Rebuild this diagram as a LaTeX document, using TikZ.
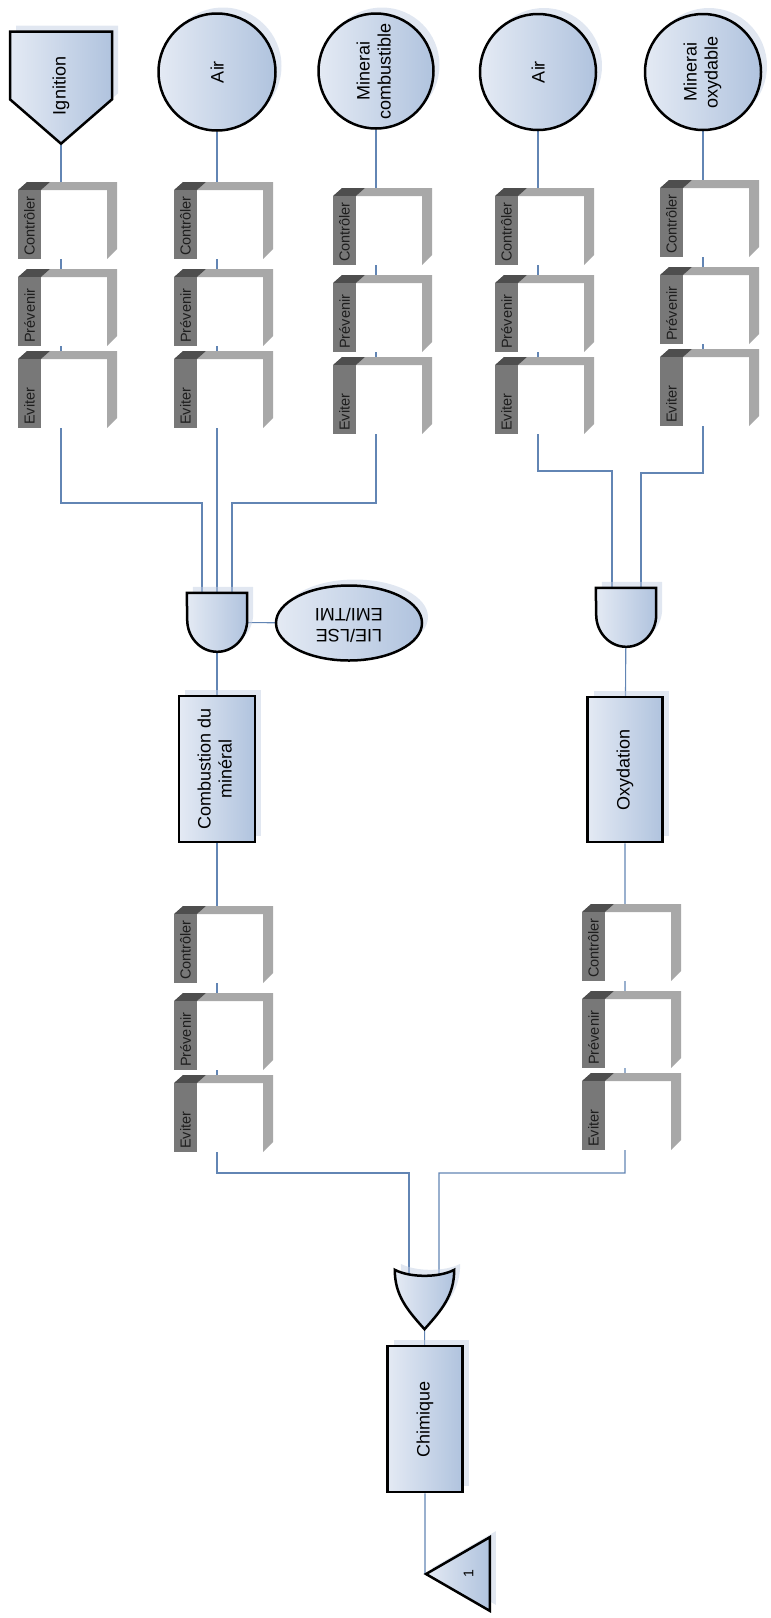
\documentclass[tikz,border=0pt]{standalone}
\usepackage{fontspec}
\setmainfont{Liberation Sans}
\usetikzlibrary{shapes.geometric,shapes.symbols,shadows,backgrounds}
\definecolor{evlight}{RGB}{228,234,244}
\definecolor{evdark}{RGB}{176,195,222}
\definecolor{evshadow}{RGB}{196,208,228}
\definecolor{wireblue}{RGB}{98,133,180}
\definecolor{bardark}{RGB}{120,120,120}
\definecolor{barcorner}{RGB}{78,78,78}
\definecolor{barlight}{RGB}{168,168,168}
\definecolor{bartext}{RGB}{30,30,30}

\begin{document}
\begin{tikzpicture}[x=1pt,y=-1pt]
        \tikzstyle{evshape} = [draw=black,line width=2.5pt,left color=evlight,right color=evdark,drop shadow={shadow xshift=6pt,shadow yshift=6pt,fill=evshadow,opacity=.5}]
        \tikzstyle{ev} = [evshape,font=\fontsize{18}{21}\selectfont,inner sep=0pt]
        \tikzstyle{gate} = [minimum width=60pt,minimum height=59pt,inner sep=0pt]
        \tikzstyle{wire} = [draw=wireblue,line width=1.1pt]
        \tikzset{barrier/.style={minimum width=99pt,minimum height=77pt,inner sep=0pt,fill=white,
            path picture={
                \coordinate (p) at (path picture bounding box.north west);
                \fill[barlight] ([shift={(23,8)}]p) -- ([shift={(32,0)}]p) -- ([shift={(99,0)}]p) -- ([shift={(99,67)}]p) -- ([shift={(89,77)}]p) -- ([shift={(89,8)}]p) -- cycle;
                \fill[barcorner] ([shift={(0,8)}]p) -- ([shift={(9,0)}]p) -- ([shift={(32,0)}]p) -- ([shift={(23,8)}]p) -- cycle;
                \fill[bardark] ([shift={(0,8)}]p) rectangle ([shift={(23,77)}]p);
                \node[rotate=90,anchor=west,inner sep=0pt,minimum width=0pt,minimum height=0pt,text=bartext,font=\fontsize{14.5}{16}\selectfont] at ([shift={(11.5,74)}]p) {#1};
            }}}

        \useasboundingbox (0,0) rectangle (771,1618);


        % basic events
        \node[ev,signal,signal to=south,signal pointer angle=98,minimum width=102pt,minimum height=75pt] (ignA) at (61,65.5) {\raisebox{-49.5pt}[0pt][0pt]{\rotatebox{90}{Ignition}}};
        \node[ev,circle,minimum size=117pt] (airA) at (217,72) {\rotatebox{90}{Air}};
        \node[ev,circle,minimum size=115pt] (minA) at (376,71) {\rotatebox{90}{\begin{tabular}{@{}c@{}}Minerai\\combustible\end{tabular}}};
        \node[ev,circle,minimum size=116pt] (airB) at (538,72) {\rotatebox{90}{Air}};
        \node[ev,circle,minimum size=116pt] (minB) at (703,72) {\rotatebox{90}{\begin{tabular}{@{}c@{}}Minerai\\oxydable\end{tabular}}};


        % barriers
        \node[barrier=Contrôler] (ctlA) at (67.5,220.5) {};
        \node[barrier=Prévenir] (prvA) at (67.5,307.5) {};
        \node[barrier=Eviter] (evtA) at (67.5,389.5) {};

        \node[barrier=Contrôler] (ctlB) at (223.5,220.5) {};
        \node[barrier=Prévenir] (prvB) at (223.5,307.5) {};
        \node[barrier=Eviter] (evtB) at (223.5,389.5) {};

        \node[barrier=Contrôler] (ctlC) at (382.5,226.5) {};
        \node[barrier=Prévenir] (prvC) at (382.5,313.5) {};
        \node[barrier=Eviter] (evtC) at (382.5,395.5) {};

        \node[barrier=Contrôler] (ctlD) at (544.5,226.5) {};
        \node[barrier=Prévenir] (prvD) at (544.5,313.5) {};
        \node[barrier=Eviter] (evtD) at (544.5,395.5) {};

        \node[barrier=Contrôler] (ctlE) at (709.5,218.5) {};
        \node[barrier=Prévenir] (prvE) at (709.5,305.5) {};
        \node[barrier=Eviter] (evtE) at (709.5,387.5) {};


        % gates and intermediate events
        \node[gate] (andA) at (217,622.5) {};
        \draw[evshape] (andA.north west) -- (andA.north east) -- ++(0,27) arc[start angle=0,end angle=180,x radius=30,y radius=32] -- cycle;
        \node[ev,ellipse,minimum width=146pt,minimum height=75pt] (lie) at (349,623) {\rotatebox{180}{\begin{tabular}{@{}c@{}}LIE/LSE\\EMI/TMI\end{tabular}}};
        \node[ev,rectangle,minimum width=76pt,minimum height=146pt] (cmbA) at (217,769) {\rotatebox{90}{\begin{tabular}{@{}c@{}}Combustion du\\minéral\end{tabular}}};

        \node[gate] (andB) at (626,617.5) {};
        \draw[evshape] (andB.north west) -- (andB.north east) -- ++(0,27) arc[start angle=0,end angle=180,x radius=30,y radius=32] -- cycle;
        \node[ev,rectangle,minimum width=75pt,minimum height=145pt] (oxyB) at (625,769.5) {\rotatebox{90}{Oxydation}};


        \node[barrier=Contrôler] (ctlF) at (223.5,944.5) {};
        \node[barrier=Prévenir] (prvF) at (223.5,1031.5) {};
        \node[barrier=Eviter] (evtF) at (223.5,1113.5) {};

        \node[barrier=Contrôler] (ctlG) at (631.5,942.5) {};
        \node[barrier=Prévenir] (prvG) at (631.5,1029.5) {};
        \node[barrier=Eviter] (evtG) at (631.5,1111.5) {};


        \node[gate,minimum width=59pt] (orC) at (424.5,1299.5) {};
        \draw[evshape] (orC.north west) .. controls +(15,8) and +(-15,8) .. (orC.north east) .. controls +(0,25) and +(18,-20) .. (orC.south) .. controls +(-18,-20) and +(0,25) .. (orC.north west) -- cycle;
        \node[ev,rectangle,minimum width=75pt,minimum height=146pt] (chim) at (425,1419) {\rotatebox{90}{Chimique}};
        \node[ev,regular polygon,regular polygon sides=3,shape border rotate=90,minimum size=85pt,font=\fontsize{14}{16}\selectfont] (trf) at (468.5,1574) {\rotatebox{90}{1}\hspace{20pt}};


        \coordinate (kA) at (202,503);
        \coordinate (kC) at (232,503);
        \coordinate (kD) at (612,471);
        \coordinate (kE) at (641,473);
        \coordinate (kF) at (409,1173);
        \coordinate (kG) at (439,1173);


        \begin{scope}[on background layer]
        \draw[wire] (ignA) |- (kA) -- (kA |- andA);
        \draw[wire] (airA) -- (airA |- andA);
        \draw[wire] (minA) |- (kC) -- (kC |- andA);
        \draw[wire] (andA) -- (lie);
        \draw[wire] (andA) -- (cmbA) |- (kF) -- (kF |- orC);

        \draw[wire] (airB) |- (kD) -- (kD |- andB);
        \draw[wire] (minB) |- (kE) -- (kE |- andB);
        \draw[wire] (andB) -- (oxyB) |- (kG) -- (kG |- orC);

        \draw[wire] (orC) -- (chim) -- (chim |- trf.corner 1);
        \end{scope}

    \end{tikzpicture}
\end{document}
